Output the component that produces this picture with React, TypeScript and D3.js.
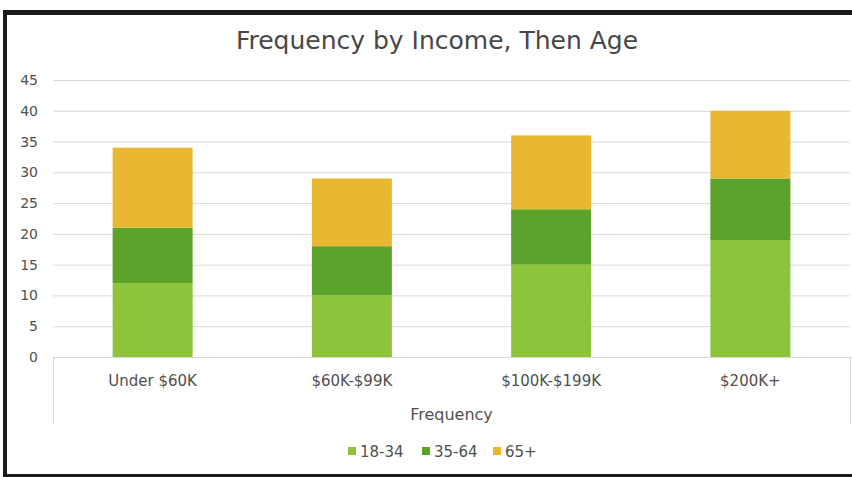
import * as d3 from 'd3';
import React, { useEffect, useRef } from 'react';

const categories = ['Under $60K', '$60K-$99K', '$100K-$199K', '$200K+'];
const seriesNames = ['18-34', '35-64', '65+'];
const age18to34 = [12, 10, 15, 19];
const age35to64 = [9, 8, 9, 10];
const age65plus = [13, 11, 12, 11];
const yTicks = [0, 5, 10, 15, 20, 25, 30, 35, 40, 45];
const colors = ['#8dc43c', '#5ba32b', '#e8b833'];

const App = () => {
  const ref = useRef<SVGSVGElement>(null);

  useEffect(() => {
    const width = 852, height = 477;
    const margin = { top: 80, right: 2, bottom: 120, left: 53 };
    const svg = d3.select(ref.current);
    svg.selectAll('*').remove();

    svg.append('rect').attr('width', width).attr('height', height).attr('fill', '#fff');

    // frame
    svg.append('line').attr('x1', 3).attr('x2', width).attr('y1', 12.5).attr('y2', 12.5)
      .attr('stroke', '#1a1a1a').attr('stroke-width', 5);
    svg.append('line').attr('x1', 5).attr('x2', 5).attr('y1', 10).attr('y2', height)
      .attr('stroke', '#1a1a1a').attr('stroke-width', 4);
    svg.append('line').attr('x1', 3).attr('x2', width).attr('y1', 475.5).attr('y2', 475.5)
      .attr('stroke', '#1a1a1a').attr('stroke-width', 3);

    const font = 'Tahoma, "DejaVu Sans", sans-serif';
    const textColor = '#505050';
    const x0 = margin.left, x1 = 850;
    const y = d3.scaleLinear().domain([0, 45]).range([357, 80]);
    const x = d3.scaleBand().domain(categories).range([x0, x1]).paddingInner(0).paddingOuter(0);
    const barW = 80;

    // gridlines
    svg.append('g').selectAll('line').data(yTicks.filter(t => t > 0)).enter().append('line')
      .attr('x1', x0).attr('x2', x1)
      .attr('y1', d => y(d) + 0.5).attr('y2', d => y(d) + 0.5)
      .attr('stroke', '#d9d9d9').attr('stroke-width', 1);

    svg.append('g').selectAll('text').data(yTicks).enter().append('text')
      .attr('x', 38).attr('y', d => y(d) + 5)
      .attr('text-anchor', 'end')
      .attr('font-family', font).attr('font-size', 14).attr('fill', textColor)
      .text(d => d);

    // stacked bars
    const table = categories.map((c, i) => ({
      cat: c,
      '18-34': age18to34[i],
      '35-64': age35to64[i],
      '65+': age65plus[i],
    }));
    const stack = d3.stack<any>().keys(seriesNames)(table);
    stack.forEach((layer, k) => {
      svg.append('g').attr('fill', colors[k]).selectAll('rect').data(layer).enter().append('rect')
        .attr('x', d => (x(d.data.cat) as number) + x.bandwidth() / 2 - barW / 2)
        .attr('width', barW)
        .attr('y', d => y(d[1]))
        .attr('height', d => y(d[0]) - y(d[1]));
    });

    // category axis box
    svg.append('line').attr('x1', x0).attr('x2', x1).attr('y1', 357.5).attr('y2', 357.5)
      .attr('stroke', '#d9d9d9');
    svg.append('line').attr('x1', x0 + 0.5).attr('x2', x0 + 0.5).attr('y1', 357).attr('y2', 424)
      .attr('stroke', '#d9d9d9');
    svg.append('line').attr('x1', x1 + 0.5).attr('x2', x1 + 0.5).attr('y1', 357).attr('y2', 424)
      .attr('stroke', '#d9d9d9');

    svg.append('g').selectAll('text').data(categories).enter().append('text')
      .attr('x', d => (x(d) as number) + x.bandwidth() / 2)
      .attr('y', 386)
      .attr('text-anchor', 'middle')
      .attr('font-family', font).attr('font-size', 15).attr('fill', textColor)
      .text(d => d);

    svg.append('text').attr('x', (x0 + x1) / 2).attr('y', 420)
      .attr('text-anchor', 'middle')
      .attr('font-family', font).attr('font-size', 16).attr('fill', textColor)
      .text('Frequency');

    // title
    svg.append('text').attr('x', 437).attr('y', 49)
      .attr('text-anchor', 'middle')
      .attr('font-family', font).attr('font-size', 25).attr('fill', '#474747')
      .text('Frequency by Income, Then Age');

    // legend
    const legendX = [348, 422, 493];
    const lg = svg.append('g').selectAll('g').data(seriesNames).enter().append('g')
      .attr('transform', (d, i) => `translate(${legendX[i]},451)`);
    lg.append('rect').attr('x', 0).attr('y', -4).attr('width', 8).attr('height', 8)
      .attr('fill', (d, i) => colors[i]);
    lg.append('text').attr('x', 12).attr('y', 6)
      .attr('font-family', font).attr('font-size', 15).attr('fill', textColor)
      .text(d => d);
  }, []);

  return (
    <svg ref={ref} width={852} height={477} style={{ position: 'absolute', left: 0, top: 0 }} />
  );
};

export default App;
